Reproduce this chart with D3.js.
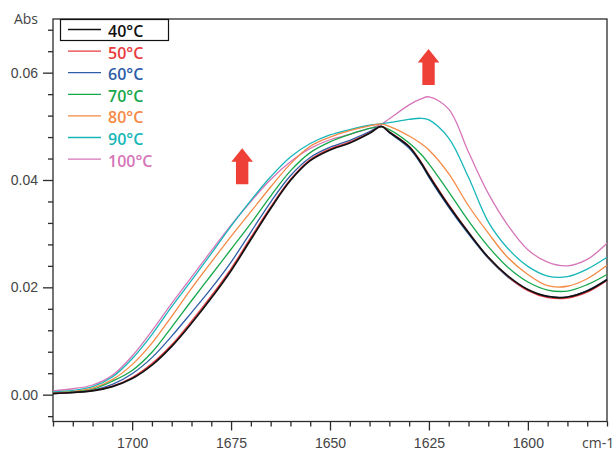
<!DOCTYPE html>
<html>
<head>
<meta charset="utf-8">
<script src="https://cdn.jsdelivr.net/npm/d3@7"></script>
<style>
  html, body { margin: 0; padding: 0; background: #fff; }
  svg { display: block; font-family: "Open Sans", "Noto Sans", sans-serif; }
  .tick text { fill: #444; font-size: 14px; }
</style>
</head>
<body>
<svg id="svg" width="614" height="452"></svg>
<script>
  // wavenumbers (cm-1), shared by every series
  const waveNumbers = [1720, 1715, 1710, 1705, 1700, 1695, 1690, 1685, 1680, 1675, 1670, 1665, 1660, 1655, 1650,
    1645, 1640, 1637, 1635, 1630, 1627, 1625, 1620, 1615, 1610, 1605, 1600, 1595, 1590, 1585, 1580];

  const temps = ['40°C', '50°C', '60°C', '70°C', '80°C', '90°C', '100°C'];
  const colorAry = ['#111111', '#e83a40', '#2f5ea8', '#17a84c', '#f58a45', '#17b7b9', '#d676b9'];

  const abs40 = [0.0002, 0.0004, 0.0007, 0.0015, 0.0030, 0.0055, 0.0090, 0.0133, 0.0180, 0.0231, 0.0289, 0.0347, 0.0399, 0.0436, 0.0456,
    0.0469, 0.0487, 0.0500, 0.0489, 0.0462, 0.0432, 0.0408, 0.0352, 0.0302, 0.0256, 0.0221, 0.0196, 0.0183, 0.0182, 0.0193, 0.0214];
  const abs50 = [0.0003, 0.0004, 0.0008, 0.0016, 0.0032, 0.0058, 0.0093, 0.0137, 0.0184, 0.0235, 0.0293, 0.0350, 0.0401, 0.0438, 0.0458,
    0.0471, 0.0488, 0.0500, 0.0490, 0.0463, 0.0434, 0.0410, 0.0354, 0.0303, 0.0256, 0.0220, 0.0194, 0.0181, 0.0180, 0.0191, 0.0213];
  const abs60 = [0.0002, 0.0004, 0.0008, 0.0019, 0.0039, 0.0069, 0.0109, 0.0153, 0.0198, 0.0247, 0.0303, 0.0359, 0.0408, 0.0442, 0.0461,
    0.0474, 0.0490, 0.0500, 0.0488, 0.0459, 0.0430, 0.0405, 0.0349, 0.0299, 0.0254, 0.0219, 0.0195, 0.0183, 0.0182, 0.0194, 0.0215];
  const abs70 = [0.0003, 0.0005, 0.0010, 0.0025, 0.0045, 0.0079, 0.0126, 0.0175, 0.0223, 0.0271, 0.0319, 0.0370, 0.0417, 0.0451, 0.0471,
    0.0485, 0.0496, 0.0499, 0.0494, 0.0469, 0.0448, 0.0430, 0.0378, 0.0324, 0.0276, 0.0237, 0.0210, 0.0195, 0.0193, 0.0205, 0.0224];
  const abs80 = [0.0003, 0.0006, 0.0012, 0.0028, 0.0056, 0.0096, 0.0146, 0.0198, 0.0247, 0.0295, 0.0341, 0.0387, 0.0430, 0.0463, 0.0480,
    0.0492, 0.0501, 0.0504, 0.0500, 0.0482, 0.0468, 0.0456, 0.0412, 0.0352, 0.0301, 0.0255, 0.0224, 0.0203, 0.0202, 0.0216, 0.0241];
  const abs90 = [0.0005, 0.0008, 0.0015, 0.0033, 0.0067, 0.0112, 0.0164, 0.0213, 0.0263, 0.0314, 0.0362, 0.0406, 0.0443, 0.0468, 0.0484,
    0.0494, 0.0502, 0.0505, 0.0507, 0.0513, 0.0515, 0.0512, 0.0478, 0.0405, 0.0322, 0.0272, 0.0239, 0.0221, 0.0220, 0.0234, 0.0256];
  const abs100 = [0.0007, 0.0011, 0.0018, 0.0036, 0.0072, 0.0119, 0.0170, 0.0219, 0.0268, 0.0316, 0.0360, 0.0401, 0.0434, 0.0459, 0.0475,
    0.0485, 0.0496, 0.0504, 0.0514, 0.0540, 0.0551, 0.0555, 0.0532, 0.0452, 0.0375, 0.0315, 0.0270, 0.0247, 0.0240, 0.0252, 0.0282];

  const seriesAry = [abs40, abs50, abs60, abs70, abs80, abs90, abs100];

  const xMajor = [1700, 1675, 1650, 1625, 1600];
  const yMajor = [0.00, 0.02, 0.04, 0.06];

  // arrows: x at wavenumber, tip at absorbance
  const arrowAry = [
    { w: 1672.2, a: 0.0459 },
    { w: 1625.1, a: 0.0644 }
  ];

  const padding = { top: 19, right: 7, bottom: 30.5, left: 53 };
  const svg = d3.select('#svg');
  const width = parseInt(svg.attr('width'));
  const height = parseInt(svg.attr('height'));

  const xScale = d3.scaleLinear()
    .domain([1720, 1580])
    .range([padding.left, width - padding.right]);

  const yScale = d3.scaleLinear()
    .domain([-0.005, 0.07])
    .range([height - padding.bottom, padding.top]);

  // minor ticks
  const xMinor = d3.range(1720, 1579, -5).filter(d => xMajor.indexOf(d) < 0);
  const yMinor = d3.range(-0.004, 0.069, 0.004).filter(d => !yMajor.some(m => Math.abs(m - d) < 1e-6));

  const axisColor = '#2b2b2b';

  function styleAxis(g) {
    g.selectAll('.tick line').attr('stroke', axisColor).attr('stroke-width', 1.3);
    g.select('.domain').remove();
  }

  svg.append('g')
    .attr('transform', `translate(0, ${height - padding.bottom})`)
    .call(d3.axisBottom(xScale).tickValues(xMinor).tickSize(5).tickFormat(''))
    .call(styleAxis);

  svg.append('g')
    .attr('transform', `translate(0, ${height - padding.bottom})`)
    .call(d3.axisBottom(xScale).tickValues(xMajor).tickSize(9).tickFormat(d3.format('d')))
    .call(styleAxis)
    .call(g => g.selectAll('text').attr('y', 17));

  svg.append('g')
    .attr('transform', `translate(${padding.left}, 0)`)
    .call(d3.axisLeft(yScale).tickValues(yMinor).tickSize(5).tickFormat(''))
    .call(styleAxis);

  svg.append('g')
    .attr('transform', `translate(${padding.left}, 0)`)
    .call(d3.axisLeft(yScale).tickValues(yMajor).tickSize(10).tickPadding(5).tickFormat(d3.format('.2f')))
    .call(styleAxis);

  // frame
  svg.append('rect')
    .attr('x', padding.left)
    .attr('y', padding.top)
    .attr('width', width - padding.left - padding.right)
    .attr('height', height - padding.top - padding.bottom)
    .attr('fill', 'none')
    .attr('stroke', axisColor)
    .attr('stroke-width', 1.3);

  svg.append('text')
    .attr('x', 38)
    .attr('y', 24)
    .attr('text-anchor', 'end')
    .attr('fill', '#444')
    .attr('font-size', '14px')
    .text('Abs');

  svg.append('text')
    .attr('x', 582)
    .attr('y', 448)
    .attr('fill', '#444')
    .attr('font-size', '14px')
    .text('cm-1');

  // spectra
  const line = d3.line()
    .x((d, i) => xScale(waveNumbers[i]))
    .y(d => yScale(d))
    .curve(d3.curveCatmullRom.alpha(0.5));

  const lineGrp = svg.append('g');
  for (let i = seriesAry.length - 1; i >= 0; i--) {
    lineGrp.append('path')
      .attr('d', line(seriesAry[i]))
      .attr('fill', 'none')
      .attr('stroke', colorAry[i])
      .attr('stroke-width', i === 0 ? 1.7 : 1.3)
      .attr('stroke-linejoin', 'round');
  }

  // red arrows
  svg.selectAll('.arrow')
    .data(arrowAry)
    .enter()
    .append('path')
    .attr('class', 'arrow')
    .attr('fill', '#ee4036')
    .attr('d', d => {
      let cx = xScale(d.w), ty = yScale(d.a);
      return `M${cx},${ty} L${cx + 10.8},${ty + 13.4} L${cx + 6.2},${ty + 13.4} L${cx + 6.2},${ty + 36}`
        + ` L${cx - 6.2},${ty + 36} L${cx - 6.2},${ty + 13.4} L${cx - 10.8},${ty + 13.4} Z`;
    });

  // legend
  const legend = svg.append('g');
  legend.append('rect')
    .attr('x', 60.5)
    .attr('y', 19.5)
    .attr('width', 108)
    .attr('height', 21)
    .attr('fill', '#fff')
    .attr('stroke', '#111')
    .attr('stroke-width', 1.2);

  let item = legend.selectAll('.item')
    .data(temps)
    .enter()
    .append('g')
    .attr('class', 'item')
    .attr('transform', (d, i) => `translate(0, ${29.5 + i * 21.6})`);

  item.append('line')
    .attr('x1', 68)
    .attr('x2', 101)
    .attr('stroke', (d, i) => colorAry[i])
    .attr('stroke-width', (d, i) => i === 0 ? 1.5 : 1.3);

  item.append('text')
    .attr('x', 108)
    .attr('y', 7.5)
    .attr('font-size', '16px')
    .attr('font-weight', 600)
    .attr('fill', (d, i) => colorAry[i])
    .text(d => d);
</script>
</body>
</html>
